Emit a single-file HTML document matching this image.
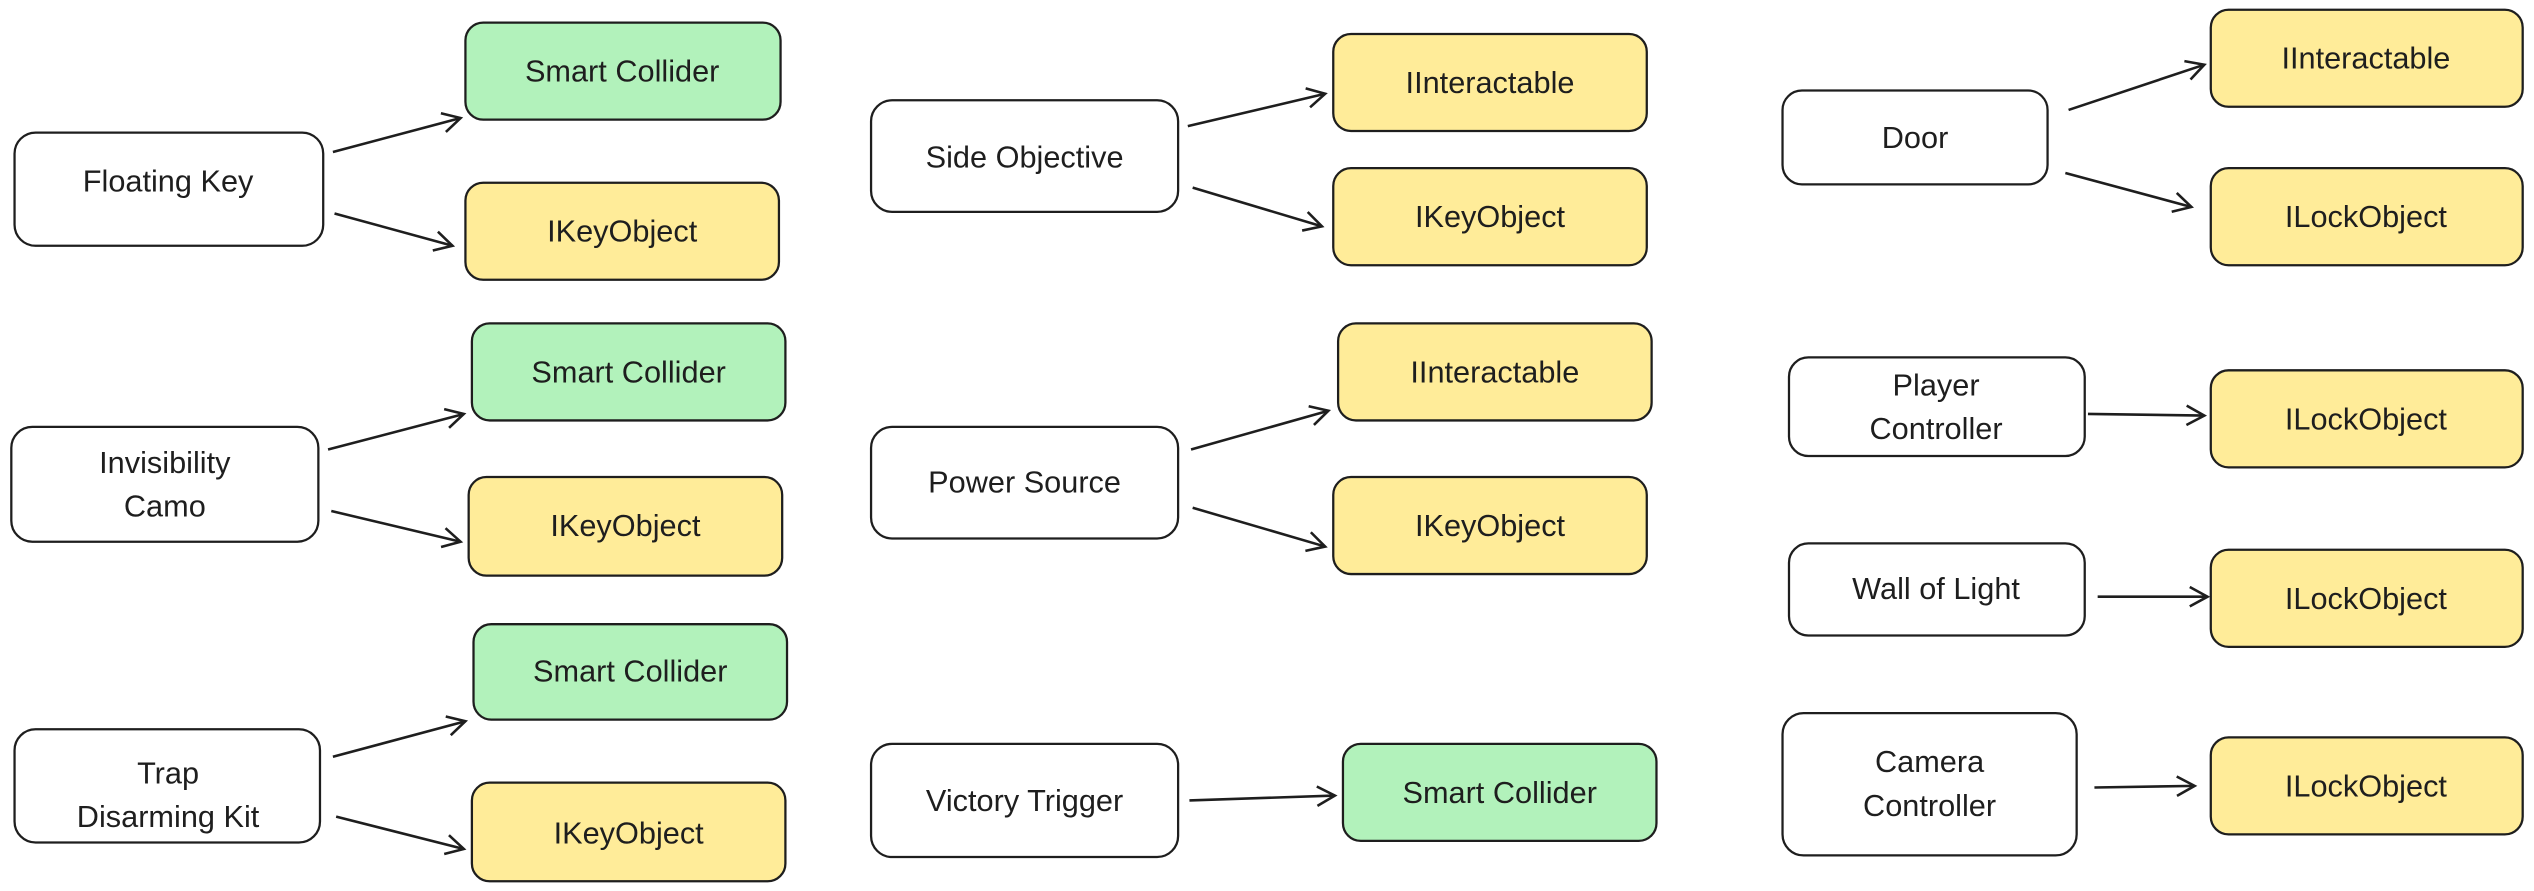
<!DOCTYPE html>
<html><head><meta charset="utf-8"><style>
html,body{margin:0;padding:0;background:#fff;}
svg{display:block;}
text{font-family:"Liberation Sans",sans-serif;font-size:19px;fill:#1e1e1e;text-anchor:middle;dominant-baseline:central;}
</style></head><body>
<svg width="2534" height="891" viewBox="0 0 1568 551" preserveAspectRatio="none" xmlns="http://www.w3.org/2000/svg">
<defs><marker id="a" markerWidth="14" markerHeight="14" refX="12" refY="7" orient="auto" markerUnits="userSpaceOnUse"><path d="M1,1 L12,7 L1,13" fill="none" stroke="#1e1e1e" stroke-width="1.6"/></marker></defs>
<g stroke="#1e1e1e" stroke-width="1.4">
<rect x="9" y="82" width="191" height="70" rx="13" fill="#fff"/>
<rect x="288" y="14" width="195" height="60" rx="11" fill="#b2f2bb"/>
<rect x="288" y="113" width="194" height="60" rx="11" fill="#ffec99"/>
<rect x="7" y="264" width="190" height="71" rx="13" fill="#fff"/>
<rect x="292" y="200" width="194" height="60" rx="11" fill="#b2f2bb"/>
<rect x="290" y="295" width="194" height="61" rx="11" fill="#ffec99"/>
<rect x="9" y="451" width="189" height="70" rx="13" fill="#fff"/>
<rect x="293" y="386" width="194" height="59" rx="11" fill="#b2f2bb"/>
<rect x="292" y="484" width="194" height="61" rx="11" fill="#ffec99"/>
<rect x="539" y="62" width="190" height="69" rx="13" fill="#fff"/>
<rect x="825" y="21" width="194" height="60" rx="11" fill="#ffec99"/>
<rect x="825" y="104" width="194" height="60" rx="11" fill="#ffec99"/>
<rect x="539" y="264" width="190" height="69" rx="13" fill="#fff"/>
<rect x="828" y="200" width="194" height="60" rx="11" fill="#ffec99"/>
<rect x="825" y="295" width="194" height="60" rx="11" fill="#ffec99"/>
<rect x="539" y="460" width="190" height="70" rx="13" fill="#fff"/>
<rect x="831" y="460" width="194" height="60" rx="11" fill="#b2f2bb"/>
<rect x="1103" y="56" width="164" height="58" rx="12" fill="#fff"/>
<rect x="1368" y="6" width="193" height="60" rx="11" fill="#ffec99"/>
<rect x="1368" y="104" width="193" height="60" rx="11" fill="#ffec99"/>
<rect x="1107" y="221" width="183" height="61" rx="12" fill="#fff"/>
<rect x="1368" y="229" width="193" height="60" rx="11" fill="#ffec99"/>
<rect x="1107" y="336" width="183" height="57" rx="12" fill="#fff"/>
<rect x="1368" y="340" width="193" height="60" rx="11" fill="#ffec99"/>
<rect x="1103" y="441" width="182" height="88" rx="13" fill="#fff"/>
<rect x="1368" y="456" width="193" height="60" rx="11" fill="#ffec99"/>
</g>
<g stroke="#1e1e1e" stroke-width="1.6" fill="none" marker-end="url(#a)">
<line x1="206" y1="94" x2="285" y2="73"/>
<line x1="207" y1="132" x2="280" y2="152"/>
<line x1="203" y1="278" x2="287" y2="256"/>
<line x1="205" y1="316" x2="285" y2="335"/>
<line x1="206" y1="468" x2="288" y2="446"/>
<line x1="208" y1="505" x2="287" y2="525"/>
<line x1="735" y1="78" x2="820" y2="58"/>
<line x1="738" y1="116" x2="818" y2="140"/>
<line x1="737" y1="278" x2="822" y2="254"/>
<line x1="738" y1="314" x2="820" y2="338"/>
<line x1="736" y1="495" x2="826" y2="492"/>
<line x1="1280" y1="68" x2="1364" y2="40"/>
<line x1="1278" y1="107" x2="1356" y2="128"/>
<line x1="1292" y1="256" x2="1364" y2="257"/>
<line x1="1298" y1="369" x2="1366" y2="369"/>
<line x1="1296" y1="487" x2="1358" y2="486"/>
</g>
<text x="104" y="112">Floating Key</text>
<text x="385" y="44">Smart Collider</text>
<text x="385" y="143">IKeyObject</text>
<text x="102" y="286">Invisibility</text>
<text x="102" y="313">Camo</text>
<text x="389" y="230">Smart Collider</text>
<text x="387" y="325">IKeyObject</text>
<text x="104" y="478">Trap</text>
<text x="104" y="505">Disarming Kit</text>
<text x="390" y="415">Smart Collider</text>
<text x="389" y="515">IKeyObject</text>
<text x="634" y="97">Side Objective</text>
<text x="922" y="51">IInteractable</text>
<text x="922" y="134">IKeyObject</text>
<text x="634" y="298">Power Source</text>
<text x="925" y="230">IInteractable</text>
<text x="922" y="325">IKeyObject</text>
<text x="634" y="495">Victory Trigger</text>
<text x="928" y="490">Smart Collider</text>
<text x="1185" y="85">Door</text>
<text x="1464" y="36">IInteractable</text>
<text x="1464" y="134">ILockObject</text>
<text x="1198" y="238">Player</text>
<text x="1198" y="265">Controller</text>
<text x="1464" y="259">ILockObject</text>
<text x="1198" y="364">Wall of Light</text>
<text x="1464" y="370">ILockObject</text>
<text x="1194" y="471">Camera</text>
<text x="1194" y="498">Controller</text>
<text x="1464" y="486">ILockObject</text>
</svg>
</body></html>
